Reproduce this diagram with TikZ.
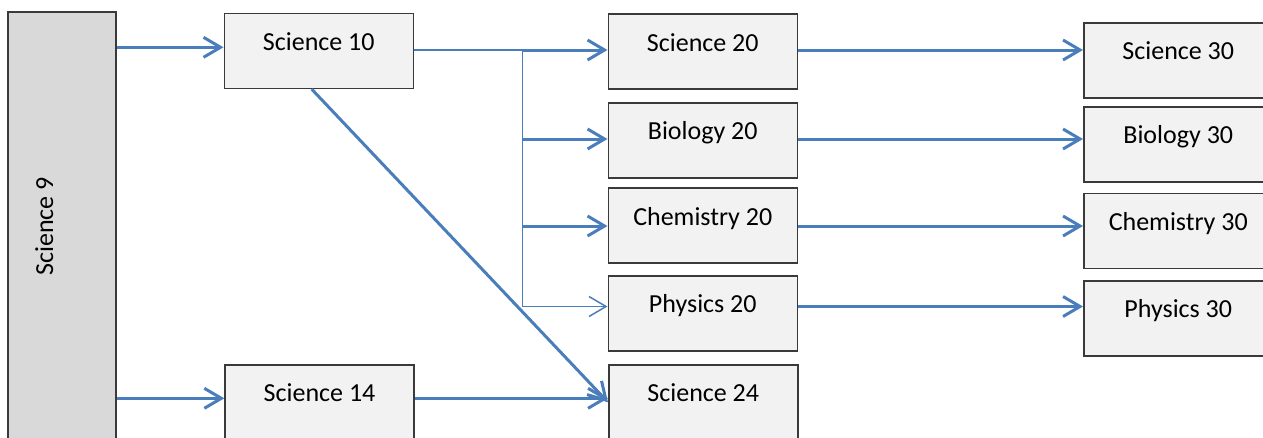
\documentclass[tikz,border=0pt]{standalone}
\usepackage{fontspec}
\setmainfont{Carlito}
\usetikzlibrary{arrows.meta}
\definecolor{lineblue}{HTML}{4A7EBB}
\definecolor{boxfill}{HTML}{F2F2F2}
\definecolor{sidefill}{HTML}{D9D9D9}
\definecolor{boxline}{HTML}{3A3A3A}
\begin{document}
\begin{tikzpicture}[x=1pt,y=-1pt,
  course/.style={draw=boxline, fill=boxfill, line width=1.5pt, inner sep=0pt,
    anchor=north west, minimum width=189pt, text height=37pt, text depth=38pt,
    font=\fontsize{26}{30}\selectfont},
  side/.style={draw=boxline, fill=sidefill, line width=1.5pt, inner sep=0pt,
    rotate=90, minimum width=429pt, text height=45pt, text depth=63pt,
    font=\fontsize{26}{30}\selectfont},
  arr/.style={draw=lineblue, line width=3pt, -{Straight Barb[length=17pt,width=20pt]}},
  thinarr/.style={draw=lineblue, line width=1.5pt, -{Straight Barb[length=17pt,width=20pt]}},
  thinline/.style={draw=lineblue, line width=1.5pt}]
\useasboundingbox (0,0) rectangle (1263,437);
\clip (0,0) rectangle (1263,437);

\node[side] (s9) at (62,226.5) {Science 9};

\node[course] (s10) at (223.5,12.7) {Science 10};
\node[course] (s14) at (224.3,364) {Science 14};
\node[course] (s20) at (607.5,13.3) {Science 20};
\node[course] (b20) at (607.5,102) {Biology 20};
\node[course] (c20) at (607.5,187.3) {Chemistry 20};
\node[course] (p20) at (607.5,275) {Physics 20};
\node[course] (s24) at (608,364) {Science 24};
\node[course] (s30) at (1083,22) {Science 30};
\node[course] (b30) at (1083,106) {Biology 30};
\node[course] (c30) at (1083,192.7) {Chemistry 30};
\node[course] (p30) at (1083,280) {Physics 30};

\coordinate (y10) at (0,47.3);
\coordinate (y14) at (0,398.3);
\coordinate (t1) at (522.3,50);
\coordinate (t2) at (522.3,139);
\coordinate (t3) at (522.3,226);
\coordinate (t4) at (522.3,306.5);
\coordinate (d0) at ([xshift=-7pt]s10.south);

\draw[arr] (s9.south |- y10) -- (s10.west |- y10);
\draw[arr] (s9.south |- y14) -- (s14.west |- y14);
\draw[arr] (s14.east |- y14) -- (s24.west |- y14);
\draw[arr] (d0) -- (s24.west);

\draw[thinline] (s10.east |- t1) -- (t1) -- (t4);
\draw[arr] (t1) -- (t1 -| s20.west);
\draw[arr] (t2) -- (t2 -| b20.west);
\draw[arr] (t3) -- (t3 -| c20.west);
\draw[thinarr] (t4) -- (t4 -| p20.west);

\draw[arr] (t1 -| s20.east) -- (t1 -| s30.west);
\draw[arr] (t2 -| b20.east) -- (t2 -| b30.west);
\draw[arr] (t3 -| c20.east) -- (t3 -| c30.west);
\draw[arr] (t4 -| p20.east) -- (t4 -| p30.west);
\end{tikzpicture}
\end{document}
